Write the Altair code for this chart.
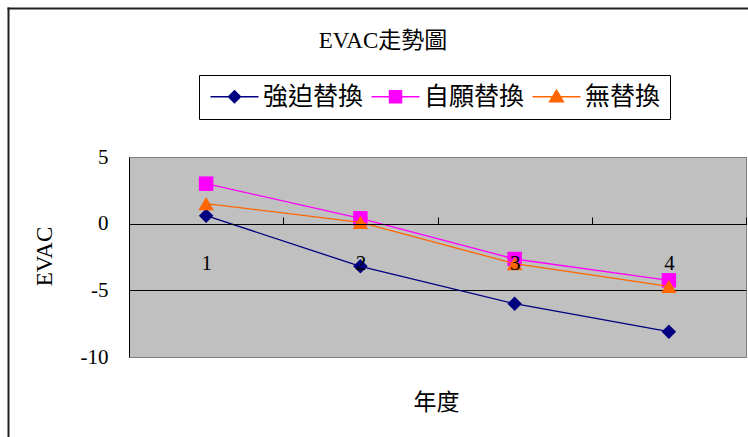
import altair as alt
import pandas as pd

# ---------------- data ----------------
chart_title = "EVAC走勢圖"
x_title = "年度"
y_title = "EVAC"
years = [1, 2, 3, 4]
series_names = ["強迫替換", "自願替換", "無替換"]
forced = [0.6, -3.2, -6.0, -8.1]
voluntary = [3.0, 0.4, -2.65, -4.25]
no_replace = [1.5, 0.1, -3.0, -4.7]
colors = ["#000080", "#FF00FF", "#FF6600"]
marker_shapes = ["diamond", "square", "triangle-up"]
legend_shapes = [
    "M-4,0H4M0,-1L1,0L0,1L-1,0Z",
    "M-4,0H4M-1,-1H1V1H-1Z",
    "M-4,0H4M0,-1.1L1.15,0.85L-1.15,0.85Z",
]
y_ticks = [-10, -5, 0, 5]
x_boundaries = [0.5, 1.5, 2.5, 3.5, 4.5]

rows = []
for name, vals in zip(series_names, [forced, voluntary, no_replace]):
    for yr, v in zip(years, vals):
        rows.append({"year": yr, "value": v, "series": name})
df = pd.DataFrame(rows)

# ---------------- layout ----------------
W, H = 617, 200
PL, PT = 129, 157
SERIF = "'Liberation Serif', 'Noto Sans CJK TC', serif"
CJK = "'Noto Sans CJK TC', 'Liberation Serif', sans-serif"

xscale = alt.Scale(domain=[0.5, 4.5], nice=False, zero=False)
yscale = alt.Scale(domain=[-10, 5], nice=False, zero=False)
stroke_scale = alt.Scale(domain=series_names, range=colors)
fill_scale = alt.Scale(domain=series_names, range=colors)
shape_scale = alt.Scale(domain=series_names, range=legend_shapes)

axis_labels = alt.Axis(
    orient="bottom", offset=-133, values=years, format="d",
    ticks=False, tickSize=0, domain=False, grid=False,
    labelPadding=39, labelBaseline="middle",
    labelFont=SERIF, labelFontSize=21, labelColor="black",
    title=x_title, titleFont=CJK, titleFontSize=23, titleFontWeight="normal",
    titleColor="black", titleX=307, titleY=178, titleBaseline="middle",
    zindex=1,
)
axis_ticks = alt.Axis(
    orient="top", offset=-67, values=x_boundaries, labels=False,
    ticks=True, tickSize=7, tickColor="black", tickWidth=1,
    domain=True, domainColor="black", domainWidth=1, grid=False, title=None,
    zindex=1,
)
axis_y = alt.Axis(
    values=y_ticks, ticks=False, tickSize=0, labelPadding=21,
    labelExpr="datum.value + ''",
    labelFont=SERIF, labelFontSize=21, labelColor="black", labelBaseline="middle",
    domain=True, domainColor="black", domainWidth=1,
    grid=True, gridWidth=1,
    gridColor={"condition": {"test": "datum.value === 0 || datum.value === -5", "value": "black"},
               "value": "#808080"},
    title=y_title, titleFont=SERIF, titleFontSize=23, titleFontWeight="normal",
    titleColor="black", titleAngle=-90, titleX=-78, titleY=99,
    titleAlign="center", titleBaseline="alphabetic",
)

legend = alt.Legend(
    title=None, orient="none", legendX=70, legendY=-82, direction="horizontal",
    columns=3, symbolSize=144, symbolOffset=14, labelOffset=16, columnPadding=4,
    padding=9, strokeColor="black", fillColor="white",
    labelFont=CJK, labelFontSize=25, labelColor="black", labelLimit=400,
    symbolStrokeWidth=1.5,
)

# ---------------- decorations ----------------
one = pd.DataFrame({"k": [0]})
border_v = alt.Chart(one).mark_rule(color="#202020", strokeWidth=2).encode(
    x=alt.value(-120.5), y=alt.value(-149.5), y2=alt.value(290))
border_h = alt.Chart(one).mark_rule(color="#202020", strokeWidth=2).encode(
    x=alt.value(-121.5), x2=alt.value(630), y=alt.value(-148.5))

title_layer = alt.Chart(pd.DataFrame({"t": [chart_title]})).mark_text(
    font=SERIF, fontSize=23, align="center", baseline="alphabetic", color="black"
).encode(text="t:N", x=alt.value(254), y=alt.value(-109))

# ---------------- series ----------------
series_layers = []
for i, (name, col, shp) in enumerate(zip(series_names, colors, marker_shapes)):
    sub = alt.Chart(df).transform_filter(alt.datum.series == name)
    ln = sub.mark_line(strokeWidth=1.3, color=col).encode(
        x=alt.X("year:Q", scale=xscale, axis=axis_labels if i == 0 else None),
        y=alt.Y("value:Q", scale=yscale, axis=axis_y),
    )
    pt = sub.mark_point(
        shape=shp, size=210 if shp != "triangle-up" else 240,
        filled=True, opacity=1, strokeWidth=0, fill=col,
    ).encode(
        x=alt.X("year:Q", scale=xscale, axis=axis_ticks if i == 0 else None),
        y=alt.Y("value:Q", scale=yscale, axis=axis_y),
    )
    series_layers += [ln, pt]

legend_layer = alt.Chart(df).transform_filter("false").mark_point(filled=True, opacity=1).encode(
    x=alt.X("year:Q", scale=xscale, axis=None),
    y=alt.Y("value:Q", scale=yscale, axis=axis_y),
    stroke=alt.Stroke("series:N", scale=stroke_scale, legend=legend),
    fill=alt.Fill("series:N", scale=fill_scale, legend=legend),
    shape=alt.Shape("series:N", scale=shape_scale, legend=legend),
)

chart = alt.layer(
    border_v, border_h, title_layer, *series_layers, legend_layer
).resolve_axis(x="independent").properties(
    width=W, height=H,
    autosize=alt.AutoSizeParams(type="none"),
    padding={"left": PL, "top": PT, "right": 748 - PL - W, "bottom": 437 - PT - H},
    background="white",
).configure_view(fill="#C0C0C0", stroke="#808080", strokeWidth=1)

chart.save("out.html", embed_options={"renderer": "svg", "actions": False})
